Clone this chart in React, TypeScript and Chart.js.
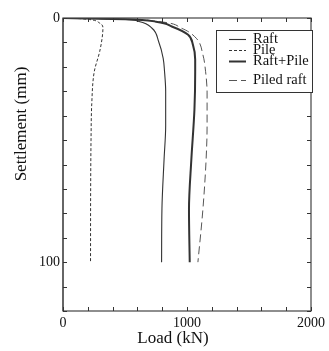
import React, { useEffect, useRef } from "react";
import { Chart, registerables } from "chart.js";

Chart.register(...registerables);

// Settlement (mm) and load (kN)
const settlementRaft = [0, 0.3, 1.4, 4.2, 9.6, 16.5, 22, 30, 44, 58, 78, 100];
const loadRaft = [0, 400, 613, 718, 771, 808, 819, 828, 828, 815, 798, 795];

const settlementPile = [0, 0.3, 2.1, 4.2, 8, 13.7, 22, 35, 50, 70, 100];
const loadPile = [0, 150, 296, 322, 316, 296, 252, 232, 226, 223, 222];

const settlementRaftPile = [0, 0.5, 1.5, 3.5, 6.9, 11, 17, 22, 37.5, 58, 78.5, 100];
const loadRaftPile = [0, 500, 750, 877, 1009, 1048, 1066, 1066, 1060, 1035, 1016, 1022];

const settlementPiledRaft = [0, 0.5, 1.5, 4.2, 8.3, 15, 22, 30.7, 44, 58, 78.5, 100];
const loadPiledRaft = [0, 500, 780, 956, 1075, 1128, 1150, 1162, 1162, 1154, 1128, 1088];

const seriesLabels = ["Raft", "Pile", "Raft+Pile", "Piled raft"];
const xLabelValues = [0, 1000, 2000];
const yLabelValues = [0, 100];

const FONT = "'Liberation Serif', 'Times New Roman', serif";

const pts = (s: number[], l: number[]) => s.map((v, i) => ({ x: l[i], y: v }));

const decorPlugin = {
  id: "decor",
  afterDatasetsDraw(chart: any) {
    const { ctx, chartArea: a, scales } = chart;
    const xs = scales.x;
    const ys = scales.y;
    ctx.save();
    // frame
    ctx.strokeStyle = "#444";
    ctx.lineWidth = 1.2;
    ctx.strokeRect(a.left, a.top, a.right - a.left, a.bottom - a.top);
    ctx.lineWidth = 2;
    ctx.strokeStyle = "#666";
    ctx.beginPath();
    ctx.moveTo(a.left, a.top);
    ctx.lineTo(a.left, a.bottom);
    ctx.stroke();
    // inward ticks
    ctx.strokeStyle = "#333";
    ctx.lineWidth = 1;
    const tl = 4;
    for (let v = 0; v <= 2000; v += 200) {
      const px = Math.round(xs.getPixelForValue(v)) + 0.5;
      ctx.beginPath();
      ctx.moveTo(px, a.bottom);
      ctx.lineTo(px, a.bottom - tl);
      ctx.moveTo(px, a.top);
      ctx.lineTo(px, a.top + tl);
      ctx.stroke();
    }
    for (let v = 0; v <= 120; v += 10) {
      const py = Math.round(ys.getPixelForValue(v)) + 0.5;
      ctx.beginPath();
      ctx.moveTo(a.left, py);
      ctx.lineTo(a.left + tl, py);
      ctx.moveTo(a.right, py);
      ctx.lineTo(a.right - tl, py);
      ctx.stroke();
    }
    // axis titles
    ctx.fillStyle = "#111";
    ctx.font = `17px ${FONT}`;
    ctx.textAlign = "center";
    ctx.textBaseline = "middle";
    ctx.fillText("Load (kN)", 173, 339);
    ctx.save();
    ctx.translate(22, 124);
    ctx.rotate(-Math.PI / 2);
    ctx.fillText("Settlement (mm)", 0, 0);
    ctx.restore();
    // legend
    const lx = 216.5, ly = 30.5, lw = 96, lh = 62;
    ctx.fillStyle = "#fff";
    ctx.fillRect(lx, ly, lw, lh);
    ctx.strokeStyle = "#333";
    ctx.lineWidth = 1;
    ctx.strokeRect(lx, ly, lw, lh);
    const rows = [39.5, 50.5, 61.5, 80.5];
    ctx.font = `14.5px ${FONT}`;
    ctx.textAlign = "left";
    chart.data.datasets.forEach((ds: any, i: number) => {
      const y = rows[i];
      ctx.beginPath();
      ctx.strokeStyle = ds.borderColor;
      ctx.lineWidth = ds.borderWidth;
      ctx.setLineDash(ds.borderDash || []);
      ctx.moveTo(229, y);
      ctx.lineTo(246, y);
      ctx.stroke();
      ctx.setLineDash([]);
      ctx.fillStyle = "#111";
      ctx.fillText(ds.label, 253, y);
    });
    ctx.restore();
  },
};

export default function App() {
  const ref = useRef<HTMLCanvasElement>(null);
  useEffect(() => {
    document.body.style.margin = "0";
    const chart = new Chart(ref.current!, {
      type: "line",
      data: {
        datasets: [
          {
            label: seriesLabels[0],
            data: pts(settlementRaft, loadRaft),
            borderColor: "#333",
            borderWidth: 1.1,
          },
          {
            label: seriesLabels[1],
            data: pts(settlementPile, loadPile),
            borderColor: "#333",
            borderWidth: 1,
            borderDash: [3, 2],
          },
          {
            label: seriesLabels[2],
            data: pts(settlementRaftPile, loadRaftPile),
            borderColor: "#333",
            borderWidth: 2,
          },
          {
            label: seriesLabels[3],
            data: pts(settlementPiledRaft, loadPiledRaft),
            borderColor: "#555",
            borderWidth: 1,
            borderDash: [8, 4],
          },
        ] as any,
      },
      options: {
        animation: false,
        responsive: false,
        indexAxis: "y",
        layout: { padding: { top: 18, right: 14, left: 0, bottom: 0 } },
        elements: {
          point: { radius: 0 },
          line: { cubicInterpolationMode: "monotone", fill: false },
        },
        plugins: { legend: { display: false }, tooltip: { enabled: false } },
        scales: {
          x: {
            type: "linear",
            position: "bottom",
            min: 0,
            max: 2000,
            grid: { display: false, drawTicks: false, tickLength: 0 },
            border: { display: false },
            afterBuildTicks: (s: any) => {
              s.ticks = xLabelValues.map((v) => ({ value: v }));
            },
            afterFit: (s: any) => {
              s.height = 40;
            },
            ticks: {
              autoSkip: false,
              maxRotation: 0,
              padding: 4,
              color: "#111",
              font: { family: FONT, size: 14 },
              callback: (v: any) => String(v),
            },
          },
          y: {
            type: "linear",
            position: "left",
            reverse: true,
            min: 0,
            max: 120,
            grid: { display: false, drawTicks: false, tickLength: 0 },
            border: { display: false },
            afterBuildTicks: (s: any) => {
              s.ticks = yLabelValues.map((v) => ({ value: v }));
            },
            afterFit: (s: any) => {
              s.width = 63;
            },
            ticks: {
              autoSkip: false,
              padding: 3,
              color: "#111",
              font: { family: FONT, size: 14 },
              callback: (v: any) => String(v),
            },
          },
        },
      } as any,
      plugins: [decorPlugin],
    });
    return () => chart.destroy();
  }, []);
  return <canvas ref={ref} width={329} height={351} />;
}
